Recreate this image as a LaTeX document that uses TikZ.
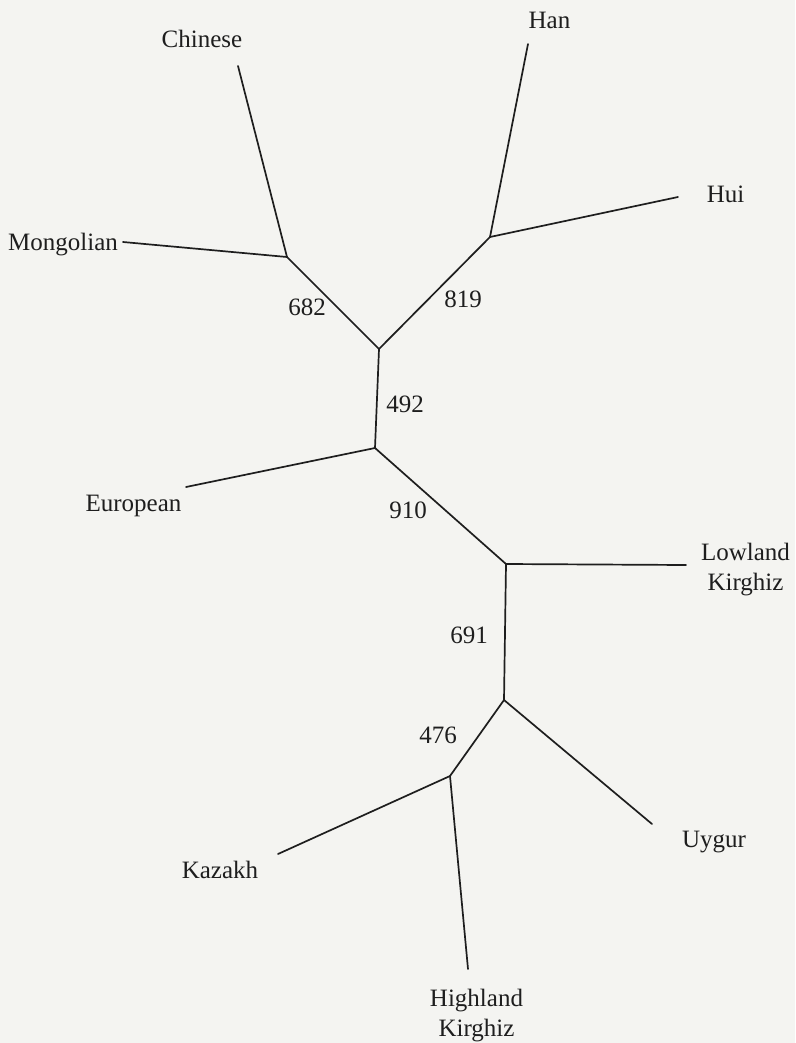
\documentclass[tikz,border=0pt]{standalone}
\usepackage{fontspec}
\setmainfont{Liberation Serif}
\definecolor{bg}{RGB}{244,244,241}
\definecolor{ink}{RGB}{30,30,30}
\begin{document}
\begin{tikzpicture}[x=1pt,y=-1pt,
  branch/.style={draw=ink,line width=1.7pt,line cap=round,line join=round},
  taxon/.style={text=ink,inner sep=0pt,font=\fontsize{25}{30}\selectfont,anchor=base,align=center},
  support/.style={text=ink,inner sep=0pt,font=\fontsize{25}{30}\selectfont,anchor=base}]
\fill[bg] (0,0) rectangle (795,1043);
\useasboundingbox (0,0) rectangle (795,1043);
% internal nodes
\coordinate (A) at (287,257);
\coordinate (B) at (490,237);
\coordinate (C) at (379,349);
\coordinate (D) at (375,448);
\coordinate (E) at (506,564);
\coordinate (F) at (504,700);
\coordinate (G) at (450,776);
% leaf ends
\coordinate (chi) at (238,66);
\coordinate (han) at (528,44);
\coordinate (hui) at (678,197);
\coordinate (mon) at (123,242);
\coordinate (eur) at (186,487);
\coordinate (low) at (686,565);
\coordinate (uyg) at (652,824);
\coordinate (kaz) at (278,854);
\coordinate (hig) at (468,969);
% branches
\draw[branch] (chi) -- (A);
\draw[branch] (mon) -- (A);
\draw[branch] (A) -- (C);
\draw[branch] (han) -- (B);
\draw[branch] (hui) -- (B);
\draw[branch] (B) -- (C);
\draw[branch] (C) -- (D);
\draw[branch] (eur) -- (D);
\draw[branch] (D) -- (E);
\draw[branch] (low) -- (E);
\draw[branch] (E) -- (F);
\draw[branch] (uyg) -- (F);
\draw[branch] (F) -- (G);
\draw[branch] (kaz) -- (G);
\draw[branch] (hig) -- (G);
% taxon labels
\node[taxon] (tchi) at (202,48) {Chinese};
\node[taxon] (than) at (549.5,29) {Han};
\node[taxon] (thui) at (725.5,202) {Hui};
\node[taxon] (tmon) at (63,250) {Mongolian};
\node[taxon] (teur) at (133.5,511) {European};
\node[taxon] (tlow1) at (745.5,560) {Lowland};
\node[taxon] (tlow2) at (745.5,590) {Kirghiz};
\node[taxon] (tuyg) at (714,847) {Uygur};
\node[taxon] (tkaz) at (220,878) {Kazakh};
\node[taxon] (thig1) at (476.5,1006) {Highland};
\node[taxon] (thig2) at (476.5,1036) {Kirghiz};
% support values
\node[support] (s682) at (307,315) {682};
\node[support] (s819) at (463,307) {819};
\node[support] (s492) at (405,412) {492};
\node[support] (s910) at (408,518) {910};
\node[support] (s691) at (469,643) {691};
\node[support] (s476) at (438,743) {476};
\end{tikzpicture}
\end{document}
